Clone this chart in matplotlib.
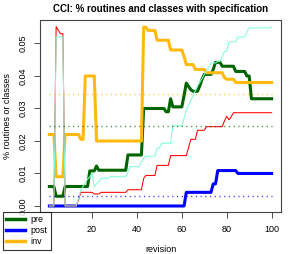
import numpy as np
import matplotlib.pyplot as plt

plt.rcParams['font.family'] = ['Liberation Sans', 'DejaVu Sans']

# revisions 1..100
revision = np.arange(1, 101)

# thick lines: routines
pre = ([0.006] * 3 + [0.003] * 4 + [0.006] * 11 + [0.0108] * 3 + [0.0123]
       + [0.011] * 13 + [0.0157] * 7 + [0.030] * 10 + [0.029] * 2 + [0.033]
       + [0.0305] * 5 + [0.034, 0.0378, 0.0368, 0.0358] + [0.0353] * 3
       + [0.037, 0.039] + [0.0405] * 4 + [0.042] + [0.0442] * 3 + [0.043] * 6
       + [0.0414] * 5 + [0.040] * 2 + [0.033] * 10)
post = [0.0] * 61 + [0.0042] * 12 + [0.0068] * 2 + [0.0109] * 9 + [0.010] * 16
inv = ([0.022] * 3 + [0.009] * 4 + [0.022] * 7 + [0.0205] * 2 + [0.040] * 5
       + [0.020] * 21 + [0.055] * 2 + [0.054] * 4 + [0.051] * 6 + [0.048] * 6
       + [0.046] + [0.0435] * 4 + [0.042] * 5 + [0.041] * 8 + [0.0395]
       + [0.039] * 4 + [0.038] * 17)

# thin lines: classes
cls_red = ([0.0] * 3 + [0.0552, 0.054, 0.053, 0.053] + [0.0] * 6 + [0.002]
           + [0.0042] * 6 + [0.0037] * 3 + [0.0042] * 12 + [0.005] * 7
           + [0.0085] + [0.0094] * 5 + [0.0125] * 6 + [0.0155] * 8 + [0.018]
           + [0.0205] * 3 + [0.0233] * 4 + [0.0244] * 8
           + [0.0262, 0.0276, 0.0265, 0.0275, 0.0287] + [0.0287] * 17)
cls_aqua = ([0.0] * 3 + [0.052] * 4 + [0.0] * 6
            + [0.0025, 0.0049, 0.006, 0.0072, 0.0082, 0.009, 0.0102, 0.0059, 0.0068, 0.0075]
            + [0.0085] * 4 + [0.009] * 8 + [0.0105] + [0.0121] * 5 + [0.0136, 0.0147]
            + [0.0153] * 5 + [0.0178] * 2 + [0.0193] * 5 + [0.0247] * 5
            + [0.027, 0.0295, 0.031, 0.0325, 0.034, 0.0355, 0.037, 0.038, 0.0392, 0.0405, 0.0415, 0.0428]
            + [0.044] * 3 + [0.0445] * 2 + [0.046] + [0.0476] * 2 + [0.0505] * 4
            + [0.052] * 4 + [0.0535] + [0.0548] * 10 + [0.055])

xticks = [20, 40, 60, 80, 100]
yticks = [0.00, 0.01, 0.02, 0.03, 0.04, 0.05]

W, H = 294, 254
fig = plt.figure(figsize=(W / 100, H / 100), dpi=100)
ax = fig.add_axes([40.5 / W, 1 - 212 / H, 240 / W, 192 / H])

c_pre, c_post, c_inv = '#006400', '#0000FF', '#FFB90F'

ax.plot(revision, pre, color=c_pre, lw=2.2, label='pre')
ax.plot(revision, post, color=c_post, lw=2.2, label='post')
ax.plot(revision, inv, color=c_inv, lw=2.2, label='inv')
ax.plot(revision, cls_red, color='#FF0000', lw=0.75)
ax.plot(revision, cls_aqua, color='#7FFFD4', lw=0.75)

# averages
for s, c in [(pre, c_pre), (post, c_post), (inv, c_inv)]:
    ax.plot([1, 100], [np.mean(s)] * 2, color=c, lw=1.0, ls=(0, (0.8, 2.6)), alpha=0.8)

ax.set_xlim(-2.96, 103.96)
ax.set_ylim(-0.00185, 0.05723)
ax.set_xticks(xticks)
ax.set_xticklabels([str(t) for t in xticks], fontsize=6.5)
ax.set_yticks(yticks)
ax.set_yticklabels(['%.2f' % t for t in yticks], fontsize=6.5, rotation=90, va='center')
ax.tick_params(length=4, width=0.6, color='#333333')
ax.tick_params(axis='x', pad=5)
ax.tick_params(axis='y', pad=5)
for sp in ax.spines.values():
    sp.set_color('#444444')
    sp.set_linewidth(0.8)

ax.set_xlabel('revision', fontsize=6.5, labelpad=8)
ax.set_ylabel('% routines or classes', fontsize=6.5, labelpad=5)
ax.set_title('CCI: % routines and classes with specification', fontsize=7.0,
             fontweight='bold', pad=6)

leg = fig.legend(loc='upper left', bbox_to_anchor=(2.7 / W, 1 - 211.7 / H),
                 bbox_transform=fig.transFigure, fontsize=6.5, frameon=True,
                 fancybox=False, edgecolor='black', handlelength=2.0,
                 handletextpad=0.6, labelspacing=0.22, borderpad=0.42,
                 borderaxespad=0)
leg.get_frame().set_linewidth(0.8)
for l in leg.get_lines():
    l.set_linewidth(2.5)

fig.savefig('out.png', dpi=100)
